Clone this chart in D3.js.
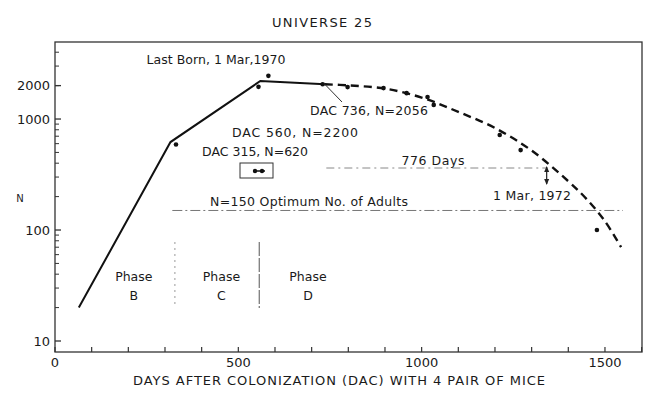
<!DOCTYPE html>
<html><head><meta charset="utf-8">
<script src="https://cdn.jsdelivr.net/npm/d3@7"></script>
<style>
body{margin:0;background:#fff;}
text{font-family:"DejaVu Sans","Liberation Sans",sans-serif;fill:#1a1a1a;}
</style></head>
<body>
<svg id="c" width="657" height="397"></svg>
<script>
// ---- data ----
const solidDays = [65, 315, 560, 736];
const solidN    = [20, 620, 2200, 2056];
const dashDays  = [736, 800, 900, 1000, 1100, 1200, 1300, 1400, 1450, 1500, 1544];
const dashN     = [2056, 2010, 1880, 1560, 1160, 830, 520, 275, 190, 120, 70];
const obsDays   = [330, 555, 582, 730, 798, 896, 959, 1016, 1033, 1213, 1270, 1478];
const obsN      = [590, 1950, 2450, 2060, 1940, 1900, 1710, 1580, 1340, 718, 525, 100];
const xTickVals   = [0, 500, 1000, 1500];
const yTickVals   = [10, 100, 1000, 2000];
const yTickLabels = ["10", "100", "1000", "2000"];
const phaseNames  = ["B", "C", "D"];
const phaseCenters= [215, 454, 690];
const phaseBounds = [327, 557];

const svg = d3.select("#c");
const x = d3.scaleLinear().domain([0, 1601]).range([55, 642]);
const y = d3.scaleLog().domain([7.96, 4943]).range([352, 42]);

// frame
svg.append("rect").attr("x",55).attr("y",42).attr("width",587).attr("height",310)
  .attr("fill","none").attr("stroke","#333").attr("stroke-width",1.3);

// x ticks (inward)
const xt = d3.range(0, 1601, 100);
svg.selectAll(".xt").data(xt).join("line")
  .attr("x1",d=>x(d)).attr("x2",d=>x(d)).attr("y1",352).attr("y2",347)
  .attr("stroke","#333").attr("stroke-width",1.2);
svg.selectAll(".xl").data(xTickVals).join("text")
  .attr("x",d=>x(d)).attr("y",367).attr("text-anchor","middle")
  .attr("font-size",13).text(d=>String(d));

// y ticks
const minor = [];
[10,100,1000].forEach(b=>{for(let k=2;k<=9;k++){ if(b*k<4943) minor.push(b*k);} });
svg.selectAll(".ymin").data(minor).join("line")
  .attr("x1",55).attr("x2",59).attr("y1",d=>y(d)).attr("y2",d=>y(d))
  .attr("stroke","#333").attr("stroke-width",1);
svg.selectAll(".ymaj").data(yTickVals).join("line")
  .attr("x1",55).attr("x2",61).attr("y1",d=>y(d)).attr("y2",d=>y(d))
  .attr("stroke","#333").attr("stroke-width",1.3);
svg.selectAll(".yl").data(yTickVals).join("text")
  .attr("x",50).attr("y",d=>y(d)+4.5).attr("text-anchor","end")
  .attr("font-size",13).text((d,i)=>yTickLabels[i]);

// title & labels
svg.append("text").attr("x",322).attr("y",27).attr("text-anchor","middle")
  .attr("font-size",13).attr("textLength",100).text("UNIVERSE 25");
svg.append("text").attr("x",339).attr("y",385).attr("text-anchor","middle")
  .attr("font-size",13).attr("textLength",412).text("DAYS AFTER COLONIZATION (DAC) WITH 4 PAIR OF MICE");
svg.append("text").attr("x",20).attr("y",202).attr("text-anchor","middle")
  .attr("font-size",10).text("N");

// N=150 reference line
svg.append("line").attr("x1",x(320)).attr("x2",x(1549)).attr("y1",y(150)).attr("y2",y(150))
  .attr("stroke","#777").attr("stroke-width",1).attr("stroke-dasharray","10,3,2,3");
svg.append("text").attr("x",309).attr("y",206).attr("text-anchor","middle")
  .attr("font-size",12.5).attr("textLength",198).text("N=150  Optimum No. of Adults");

// 776 days line
svg.append("line").attr("x1",x(740)).attr("x2",x(1341)).attr("y1",168).attr("y2",168)
  .attr("stroke","#888").attr("stroke-width",1).attr("stroke-dasharray","8,4,2,4");
svg.append("text").attr("x",433).attr("y",164.5).attr("text-anchor","middle")
  .attr("font-size",12.5).attr("textLength",63).text("776 Days");
// arrow at 1 Mar 1972
svg.append("line").attr("x1",x(1341)).attr("x2",x(1341)).attr("y1",167).attr("y2",184)
  .attr("stroke","#222").attr("stroke-width",1.2);
svg.append("path").attr("d",`M${x(1341)-2.5},179 L${x(1341)+2.5},179 L${x(1341)},185 Z`).attr("fill","#222");
svg.append("path").attr("d",`M${x(1341)-2.5},172 L${x(1341)+2.5},172 L${x(1341)},166 Z`).attr("fill","#222");
svg.append("text").attr("x",532).attr("y",200).attr("text-anchor","middle")
  .attr("font-size",12.5).attr("textLength",78).text("1 Mar, 1972");

// phases
svg.selectAll(".pb").data(phaseBounds).join("line")
  .attr("x1",d=>x(d)).attr("x2",d=>x(d)).attr("y1",242).attr("y2",308)
  .attr("stroke",(d,i)=>i===0?"#999":"#555").attr("stroke-width",1)
  .attr("stroke-dasharray",(d,i)=>i===0?"2,4":"14,2");
phaseNames.forEach((p,i)=>{
  svg.append("text").attr("x",x(phaseCenters[i])).attr("y",281).attr("text-anchor","middle")
    .attr("font-size",12.5).text("Phase");
  svg.append("text").attr("x",x(phaseCenters[i])).attr("y",300).attr("text-anchor","middle")
    .attr("font-size",12.5).text(p);
});

// lines
const solid = solidDays.map((d,i)=>[d, solidN[i]]);
const dash = dashDays.map((d,i)=>[d, dashN[i]]);
svg.append("path").datum(solid)
  .attr("d", d3.line().x(d=>x(d[0])).y(d=>y(d[1])))
  .attr("fill","none").attr("stroke","#111").attr("stroke-width",2);
svg.append("path").datum(dash)
  .attr("d", d3.line().curve(d3.curveCatmullRom.alpha(0.5)).x(d=>x(d[0])).y(d=>y(d[1])))
  .attr("fill","none").attr("stroke","#111").attr("stroke-width",2.4).attr("stroke-dasharray","8,5");

// observed points
svg.selectAll(".pt").data(obsDays).join("circle")
  .attr("cx",d=>x(d)).attr("cy",(d,i)=>y(obsN[i])).attr("r",2.3).attr("fill","#111");

// annotations
svg.append("text").attr("x",216).attr("y",64).attr("text-anchor","middle")
  .attr("font-size",12.5).attr("textLength",139).text("Last Born, 1 Mar,1970");
svg.append("line").attr("x1",x(736)).attr("y1",y(2056)).attr("x2",342).attr("y2",102)
  .attr("stroke","#333").attr("stroke-width",1);
svg.append("text").attr("x",369).attr("y",115).attr("text-anchor","middle")
  .attr("font-size",12.5).attr("textLength",118).text("DAC 736, N=2056");
svg.append("text").attr("x",295).attr("y",137).attr("text-anchor","middle")
  .attr("font-size",12.5).attr("textLength",126).text("DAC 560, N=2200");
svg.append("text").attr("x",255).attr("y",156).attr("text-anchor","middle")
  .attr("font-size",12.5).attr("textLength",106).text("DAC 315, N=620");
// small box with range marker
svg.append("rect").attr("x",240).attr("y",163).attr("width",33).attr("height",15)
  .attr("fill","none").attr("stroke","#333").attr("stroke-width",1);
svg.append("line").attr("x1",253).attr("x2",265).attr("y1",171).attr("y2",171)
  .attr("stroke","#111").attr("stroke-width",1.5);
svg.append("circle").attr("cx",255).attr("cy",171).attr("r",2.2).attr("fill","#111");
svg.append("circle").attr("cx",262).attr("cy",171).attr("r",2.2).attr("fill","#111");
</script>
</body></html>
